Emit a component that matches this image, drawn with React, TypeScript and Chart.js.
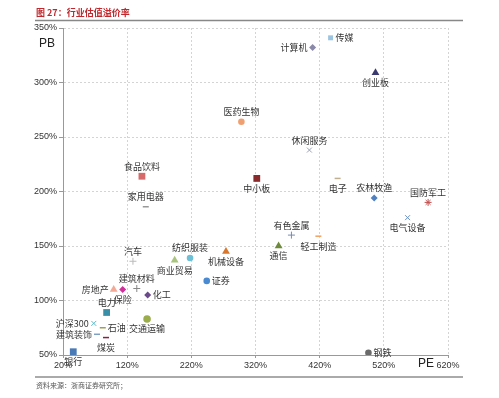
import React, { useEffect, useRef } from "react";
import { Chart, registerables } from "chart.js";

Chart.register(...registerables);

const industries = ["银行", "沪深300", "建筑装饰", "石油", "煤炭", "电力", "房地产", "保险", "建筑材料", "化工", "交通运输", "汽车", "商业贸易", "纺织服装", "机械设备", "证券", "食品饮料", "家用电器", "中小板", "通信", "有色金属", "轻工制造", "钢铁", "医药生物", "计算机", "传媒", "创业板", "休闲服务", "电子", "农林牧渔", "国防军工", "电气设备"];
const peValues = [36, 68, 73, 82, 87, 88, 99, 113, 135, 152, 151, 129, 194, 218, 274, 244, 143, 149, 322, 356, 376, 418, 496, 298, 409, 437, 507, 404, 448, 505, 589, 557];
const pbValues = [53, 79, 69, 75, 66, 89, 110, 110, 111, 105, 83, 136, 137, 139, 145, 118, 214, 186, 212, 150, 160, 159, 52, 264, 332, 341, 309, 238, 212, 194, 190, 176];
const xTicks = [20, 120, 220, 320, 420, 520, 620];
const yTicks = [50, 100, 150, 200, 250, 300, 350];

const colors = ["#4a7ab5", "#5fb8c6", "#7fa0c0", "#a0a050", "#8b2040", "#3a8fa8", "#f4a896", "#d0309a", "#888888", "#6a4a8a", "#9aad4a", "#bbbbbb", "#a8c47e", "#6ec0d6", "#d9782c", "#4a8ad0", "#d66a6a", "#999999", "#8a2a2a", "#6e8a3c", "#7a8ab0", "#f0a060", "#6a6a6a", "#f0a070", "#8a8aa8", "#9cc4e0", "#3a3a70", "#9aa0b8", "#c0b090", "#5080c0", "#c05050", "#6a90c0"];
const pointStyles = ["rect", "crossRot", "line", "line", "line", "rect", "triangle", "rectRot", "cross", "rectRot", "circle", "cross", "triangle", "circle", "triangle", "circle", "rect", "line", "rect", "triangle", "cross", "line", "circle", "circle", "rectRot", "rect", "triangle", "crossRot", "line", "rectRot", "star", "crossRot"];
const labelPos = ["b", "l", "l", "r", "b", "t", "l", "b", "t", "r", "b", "t", "b", "t", "b", "r", "t", "t", "b", "b", "t", "b", "r", "t", "l", "r", "b", "t", "b", "t", "t", "b"];

const CJK = '"Noto Sans CJK SC", "Noto Sans", sans-serif';

const decorPlugin = {
  id: "decor",
  afterDatasetsDraw(chart: any) {
    const ctx = chart.ctx;
    ctx.save();
    ctx.font = `9px ${CJK}`;
    ctx.fillStyle = "#333";
    chart.data.datasets.forEach((ds: any, i: number) => {
      const meta = chart.getDatasetMeta(i);
      const p = meta.data[0];
      if (!p) return;
      const pos = labelPos[i];
      let x = p.x, y = p.y;
      if (pos === "t") { ctx.textAlign = "center"; ctx.textBaseline = "middle"; y -= 10; }
      else if (pos === "b") { ctx.textAlign = "center"; ctx.textBaseline = "middle"; y += 10; }
      else if (pos === "l") { ctx.textAlign = "right"; ctx.textBaseline = "middle"; x -= 5; }
      else { ctx.textAlign = "left"; ctx.textBaseline = "middle"; x += 5; }
      ctx.fillText(ds.label, x, y);
    });
    ctx.restore();
  },
  afterDraw(chart: any) {
    const ctx = chart.ctx;
    ctx.save();
    ctx.fillStyle = "#c0282d";
    ctx.font = `bold 9px ${CJK}`;
    ctx.textAlign = "left";
    ctx.textBaseline = "middle";
    ctx.fillText("图 27：行业估值溢价率", 36, 13);
    ctx.strokeStyle = "#888";
    ctx.lineWidth = 1.5;
    ctx.beginPath();
    ctx.moveTo(35, 20.5);
    ctx.lineTo(463, 20.5);
    ctx.stroke();
    ctx.strokeStyle = "#aaa";
    ctx.lineWidth = 2;
    ctx.beginPath();
    ctx.moveTo(35, 377);
    ctx.lineTo(463, 377);
    ctx.stroke();
    ctx.fillStyle = "#555";
    ctx.font = `7px ${CJK}`;
    ctx.fillText("资料来源：浙商证券研究所；", 36, 385);
    ctx.fillStyle = "#222";
    ctx.font = '12px "Liberation Sans", Arial, sans-serif';
    ctx.textAlign = "center";
    ctx.fillText("PB", 47, 44);
    ctx.fillText("PE", 426, 364);
    ctx.restore();
  },
};

function radiusFor(style: string, name: string) {
  if (style === "rect") return name === "传媒" ? 3.5 : 4.8;
  if (style === "triangle") return 4.5;
  if (style === "line") return 3;
  if (style === "circle") return name === "交通运输" ? 3.8 : 3.3;
  return 3.5;
}

export default function App() {
  const ref = useRef<HTMLCanvasElement>(null);
  useEffect(() => {
    document.body.style.margin = "0";
    const datasets = industries.map((name, i) => ({
      label: name,
      data: [{ x: peValues[i], y: pbValues[i] }],
      pointStyle: pointStyles[i],
      backgroundColor: colors[i],
      borderColor: colors[i],
      borderWidth: pointStyles[i] === "line" ? 1.5 : pointStyles[i].startsWith("cross") || pointStyles[i] === "star" ? 1 : 0,
      pointRadius: radiusFor(pointStyles[i], name),
    }));
    const chart = new Chart(ref.current!, {
      type: "scatter",
      data: { datasets },
      options: {
        animation: false,
        responsive: false,
        layout: { padding: { top: 28, right: 51, left: 0, bottom: 0 } },
        plugins: { legend: { display: false }, tooltip: { enabled: false }, title: { display: false } },
        scales: {
          x: {
            type: "linear",
            min: 20,
            max: 620,
            afterFit: (s: any) => { s.height = 43; },
            afterBuildTicks: (s: any) => { s.ticks = xTicks.map((v) => ({ value: v })); },
            ticks: {
              callback: (v: any) => v + "%",
              color: "#333",
              font: { size: 9, family: '"Liberation Sans", Arial, sans-serif' },
              padding: 2,
              maxRotation: 0,
            },
            grid: { color: "#d4d4d4", tickLength: 3, tickColor: "#999", drawTicks: true } as any,
            border: { color: "#999", width: 1, dash: [2, 2] } as any,
          },
          y: {
            type: "linear",
            min: 50,
            max: 350,
            afterFit: (s: any) => { s.width = 63; },
            afterBuildTicks: (s: any) => { s.ticks = yTicks.map((v) => ({ value: v })); },
            ticks: {
              callback: (v: any) => v + "%",
              color: "#333",
              font: { size: 9, family: '"Liberation Sans", Arial, sans-serif' },
              padding: 2,
            },
            grid: { color: "#d4d4d4", tickLength: 4, tickColor: "#999" } as any,
            border: { color: "#999", width: 1, dash: [2, 2] } as any,
          },
        },
      } as any,
      plugins: [decorPlugin],
    });
    return () => chart.destroy();
  }, []);
  return (
    <div style={{ width: 499, height: 398 }}>
      <canvas ref={ref} width={499} height={398} style={{ display: "block" }} />
    </div>
  );
}
